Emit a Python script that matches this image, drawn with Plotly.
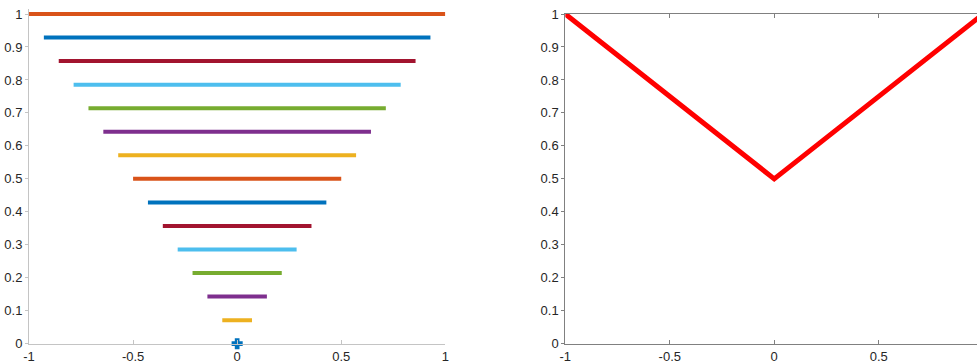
import plotly.graph_objects as go

# Left panel: horizontal segments at levels y, spanning -w..w
levels = [0.0, 0.0714, 0.1429, 0.2143, 0.2857, 0.3571, 0.4286, 0.5,
          0.5714, 0.6429, 0.7143, 0.7857, 0.8571, 0.9286, 1.0]
half_widths = [0.0, 0.0714, 0.1429, 0.2143, 0.2857, 0.3571, 0.4286, 0.5,
               0.5714, 0.6429, 0.7143, 0.7857, 0.8571, 0.9286, 1.0]
level_colors = ["#0072BD", "#EDB120", "#7E2F8E", "#77AC30", "#4DBEEE", "#A2142F",
                "#0072BD", "#D95319", "#EDB120", "#7E2F8E", "#77AC30", "#4DBEEE",
                "#A2142F", "#0072BD", "#D95319"]

# Right panel: V line
v_x = [-1, 0, 1]
v_y = [1, 0.5, 1]

x_ticks = [-1, -0.5, 0, 0.5, 1]
x_tick_labels = ["-1", "-0.5", "0", "0.5", "1"]
y_ticks = [0, 0.1, 0.2, 0.3, 0.4, 0.5, 0.6, 0.7, 0.8, 0.9, 1]
y_tick_labels = ["0", "0.1", "0.2", "0.3", "0.4", "0.5", "0.6", "0.7", "0.8", "0.9", "1"]

W, H = 977, 363
fig = go.Figure()

for y, w, c in zip(levels, half_widths, level_colors):
    if w == 0:
        fig.add_trace(go.Scatter(x=[0], y=[y], mode="markers",
                                 marker=dict(symbol="cross", size=8, color=c,
                                             line=dict(color=c, width=1.5)),
                                 cliponaxis=False, showlegend=False,
                                 xaxis="x", yaxis="y"))
    else:
        fig.add_trace(go.Scatter(x=[-w, w], y=[y, y], mode="lines",
                                 line=dict(color=c, width=4),
                                 showlegend=False, xaxis="x", yaxis="y"))

fig.add_trace(go.Scatter(x=v_x, y=v_y, mode="lines",
                         line=dict(color="#FF0000", width=5),
                         showlegend=False, xaxis="x2", yaxis="y2"))

font = dict(family="Liberation Sans, Arial, sans-serif", size=13, color="#262626")

# pixel geometry
left_x0, left_x1 = 29, 445.3
right_x0 = 565.3
px_per_unit_r = (878.7 - 565.3) / 1.5
right_end = -1 + (W - right_x0) / px_per_unit_r
y_bot, y_top = 343.7, 14.0
left_ytop_val = 1.015
left_top_px = y_bot - (y_bot - y_top) * left_ytop_val

common_x = dict(tickmode="array", tickvals=x_ticks, ticktext=x_tick_labels,
                ticks="inside", ticklen=4, showgrid=False, zeroline=False,
                showline=True, linewidth=1, tickfont=font, automargin=False,
                ticklabelstandoff=1)
common_y = dict(tickmode="array", tickvals=y_ticks, ticktext=y_tick_labels,
                ticks="outside", ticklen=3, showgrid=False, zeroline=False,
                showline=True, linewidth=1, tickfont=font, automargin=False)

fig.update_layout(
    width=W, height=H, autosize=False,
    margin=dict(l=0, r=0, t=0, b=0, autoexpand=False),
    paper_bgcolor="white", plot_bgcolor="white",
    font=font,
    xaxis=dict(common_x, domain=[left_x0 / W, left_x1 / W], range=[-1, 1],
               linecolor="#C4C4C4", tickcolor="#C4C4C4", anchor="y"),
    yaxis=dict(common_y, domain=[(H - y_bot) / H, (H - left_top_px) / H],
               range=[0, left_ytop_val], linecolor="#C4C4C4", tickcolor="#C4C4C4",
               anchor="x"),
    xaxis2=dict(common_x, domain=[right_x0 / W, 1.0], range=[-1, right_end],
                linecolor="#808080", tickcolor="#808080", mirror="ticks", anchor="y2"),
    yaxis2=dict(common_y, domain=[(H - y_bot) / H, (H - y_top) / H], range=[0, 1],
                linecolor="#808080", tickcolor="#808080", anchor="x2"),
)

fig.write_html("out.html", config={"displayModeBar": False},
               post_script="document.body.style.margin='0';document.body.style.overflow='hidden';")
